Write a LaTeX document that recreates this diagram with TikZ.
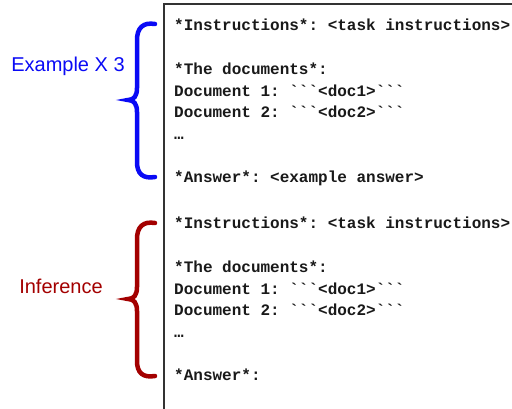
\documentclass[tikz,border=0pt]{standalone}
\usepackage{fontspec}
\setmainfont{Liberation Sans}
\setsansfont{Liberation Sans}
\setmonofont{Liberation Mono}
\definecolor{exblue}{RGB}{10,10,245}
\definecolor{infred}{RGB}{163,0,0}

\begin{document}
\begin{tikzpicture}[x=1pt, y=-1pt,
  code/.style={anchor=base west, inner sep=0pt, text=black!90, font=\fontsize{16}{19}\ttfamily\bfseries},
  sidetext/.style={anchor=base, inner sep=0pt, font=\fontsize{20}{24}\sffamily},
  curly/.style={line width=4.5pt, line cap=round}]
\useasboundingbox (0,0) rectangle (512,409);

\def\xbox{164};
\def\xtxt{174};
\def\ytop{4};
\def\dy{21.7};
\def\ya{31};
\def\yb{229};

% prompt box (runs off the page to the right and bottom)
\draw[line width=2pt, draw=black!80] (\xbox, 440) -- (\xbox, \ytop) -- (540, \ytop);

% example block
\node[code] (insta) at (\xtxt, \ya) {*Instructions*: <task instructions>};
\node[code] (docsa) at (\xtxt, \ya+2*\dy) {*The documents*:};
\node[code] (doconea) at (\xtxt, \ya+3*\dy) {Document 1: ```<doc1>```};
\node[code] (doctwoa) at (\xtxt, \ya+4*\dy) {Document 2: ```<doc2>```};
\node[code] (dotsa) at (\xtxt, \ya+5*\dy) {…};
\node[code] (ansa) at (\xtxt, \ya+7*\dy) {*Answer*: <example answer>};

% inference block
\node[code] (instb) at (\xtxt, \yb) {*Instructions*: <task instructions>};
\node[code] (docsb) at (\xtxt, \yb+2*\dy) {*The documents*:};
\node[code] (doconeb) at (\xtxt, \yb+3*\dy) {Document 1: ```<doc1>```};
\node[code] (doctwob) at (\xtxt, \yb+4*\dy) {Document 2: ```<doc2>```};
\node[code] (dotsb) at (\xtxt, \yb+5*\dy) {…};
\node[code] (ansb) at (\xtxt, \yb+7*\dy) {*Answer*:};

% braces
\draw[curly, exblue] (155,24) .. controls (143,22) and (137,28) .. (137,40) -- (137,88)
  .. controls (137,96) and (134,100) .. (128,100) .. controls (134,100) and (137,104) .. (137,112)
  -- (137,162) .. controls (137,174) and (143,179) .. (155,177);
\begin{scope}[shift={(0,199)}]
\draw[curly, infred] (155,24) .. controls (143,22) and (137,28) .. (137,40) -- (137,88)
  .. controls (137,96) and (134,100) .. (128,100) .. controls (134,100) and (137,104) .. (137,112)
  -- (137,162) .. controls (137,174) and (143,179) .. (155,177);
\end{scope}

\node[sidetext, exblue] (ex) at (68, 72) {Example X 3};
\node[sidetext, infred] (inf) at (61, 293) {Inference};

\end{tikzpicture}
\end{document}
